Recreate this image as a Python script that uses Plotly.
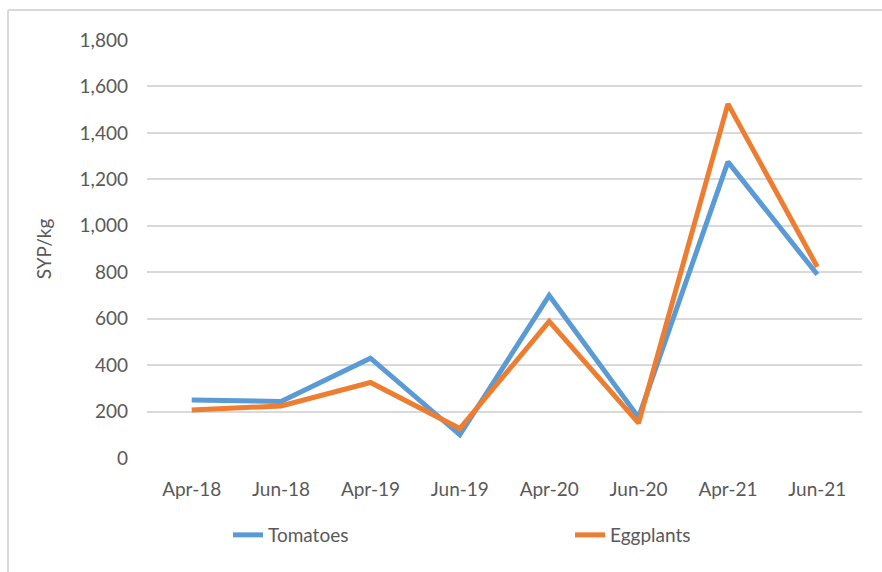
import plotly.graph_objects as go

categories = ["Apr-18", "Jun-18", "Apr-19", "Jun-19", "Apr-20", "Jun-20", "Apr-21", "Jun-21"]
tomatoes = [250, 243, 430, 100, 700, 175, 1275, 790]
eggplants = [207, 224, 325, 127, 588, 150, 1525, 823]
ytick_vals = [0, 200, 400, 600, 800, 1000, 1200, 1400, 1600, 1800]

L, R, T, B = 147, 20, 40, 114
W, H = 882, 572
pw, ph = W - L - R, H - T - B

def px_x(p):
    return (p - L) / pw

def px_y(p):
    return (H - B - p) / ph

fig = go.Figure()
fig.add_trace(go.Scatter(x=categories, y=tomatoes, name="Tomatoes", mode="lines",
                         line=dict(color="#5B9BD5", width=5), legend="legend"))
fig.add_trace(go.Scatter(x=categories, y=eggplants, name="Eggplants", mode="lines",
                         line=dict(color="#ED7D31", width=5), legend="legend2"))

font_family = "Lato, Open Sans, sans-serif"
fs = 19
legend_common = dict(orientation="h", xanchor="left", yanchor="middle",
                     font=dict(size=fs, color="#595959"), bgcolor="rgba(0,0,0,0)",
                     itemwidth=30)
border = dict(color="#D9D9D9", width=2)
fig.update_layout(
    width=W, height=H,
    margin=dict(l=L, r=R, t=T, b=B),
    paper_bgcolor="white", plot_bgcolor="white",
    font=dict(family=font_family, color="#595959", size=fs),
    showlegend=True,
    legend=dict(x=px_x(228), y=px_y(535), **legend_common),
    legend2=dict(x=px_x(570), y=px_y(535), **legend_common),
    xaxis=dict(type="category", categoryorder="array", categoryarray=categories,
               showgrid=False, zeroline=False, showline=False, ticks="",
               ticklabelstandoff=18, tickfont=dict(size=fs, color="#595959"),
               range=[-0.5, 7.5]),
    yaxis=dict(range=[0, 1800], tickvals=ytick_vals, tickformat=",d",
               showgrid=True, gridcolor="#D9D9D9", gridwidth=1.5,
               zeroline=False, showline=False, ticks="",
               ticklabelstandoff=18, tickfont=dict(size=fs, color="#595959"),
               title=dict(text="SYP/kg", font=dict(size=fs, color="#595959"), standoff=22)),
    shapes=[
        dict(type="line", xref="paper", yref="paper",
             x0=px_x(8), x1=px_x(882), y0=px_y(10), y1=px_y(10), line=border, layer="below"),
        dict(type="line", xref="paper", yref="paper",
             x0=px_x(8), x1=px_x(8), y0=px_y(10), y1=px_y(572), line=border, layer="below"),
    ],
)

fig.write_html("out.html", config={"displayModeBar": False},
               post_script="document.body.style.margin='0';")
